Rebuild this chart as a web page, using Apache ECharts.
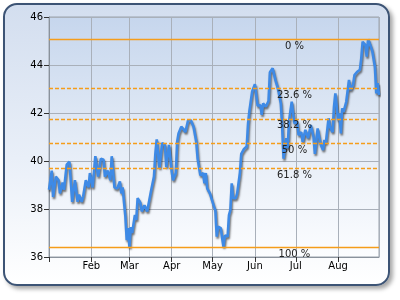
<!DOCTYPE html>
<html>
<head>
<meta charset="utf-8">
<script src="https://cdn.jsdelivr.net/npm/echarts@6/dist/echarts.min.js"></script>
<style>
html,body{margin:0;padding:0;background:#ffffff;}
#frame{position:absolute;left:3px;top:3px;width:383px;height:279px;border:2px solid #3d5475;border-radius:14px;
background:linear-gradient(to bottom,#d3deef 0%,#e9eff8 55%,#ffffff 100%);box-shadow:3px 3px 4px rgba(0,0,0,0.35);}
#c{position:absolute;left:0;top:0;width:400px;height:300px;}
</style>
</head>
<body>
<div id="frame"></div>
<div id="c"></div>
<script>
// ---- data ----
const YEAR = 2009;
const monthLabels = ['', 'Feb', 'Mar', 'Apr', 'May', 'Jun', 'Jul', 'Aug', 'Sep', 'Oct', 'Nov', 'Dec'];
// day offsets from Jan 1
const dayOffsets = [
  0, 2, 3, 5, 7, 8, 10, 11, 13, 15,
  17, 19, 21, 22, 24, 25, 27, 29, 30, 32,
  34, 36, 38, 40, 41, 43, 45, 46, 48, 50,
  52, 53, 54, 56, 57, 58, 59, 60, 61, 63,
  64, 65, 67, 68, 70, 72, 73, 75, 77, 78,
  79, 81, 83, 85, 86, 88, 90, 91, 93, 94,
  95, 97, 99, 100, 102, 104, 106, 108, 109, 111,
  113, 114, 115, 116, 118, 119, 121, 122, 123, 124,
  126, 127, 128, 129, 131, 132, 133, 134, 135, 137,
  138, 140, 141, 143, 145, 146, 147, 149, 151, 153,
  155, 156, 157, 159, 161, 162, 164, 166, 168, 170,
  171, 172, 174, 175, 176, 178, 179, 180, 182, 183,
  185, 186, 188, 190, 192, 194, 195, 196, 197, 199,
  201, 202, 203, 205, 206, 208, 209, 210, 212, 213,
  214, 215, 216, 218, 220, 221, 223, 224, 226, 228,
  229, 230, 232, 233, 234, 236, 237, 239, 240, 241,
  242
];
const prices = [
  38.8, 39.6, 38.5, 39.35, 39.2, 38.65, 39.1, 38.8, 39.85, 39.97,
  38.3, 39.2, 38.3, 38.6, 38.3, 38.5, 39.2, 38.9, 39.5, 38.9,
  40.2, 39.35, 40.1, 40.05, 39.35, 39.6, 39.2, 40.2, 38.9, 38.85,
  39.15, 38.65, 38.9, 37.7, 36.7, 37.2, 36.4, 37.25, 37.0, 37.75,
  37.55, 38.45, 38.25, 37.9, 38.15, 37.9, 37.95, 38.8, 39.35, 40.3,
  40.9, 39.7, 40.75, 40.67, 39.75, 40.67, 39.55, 39.2, 39.5, 40.8,
  41.15, 41.43, 41.3, 41.2, 41.7, 41.7, 41.43, 40.8, 40.1, 39.4,
  39.5, 39.07, 39.5, 38.86, 38.65, 38.58, 38.1, 37.95, 36.85, 37.26,
  37.2, 36.78, 36.43, 36.9, 36.85, 37.75, 37.95, 39.07, 38.45, 38.45,
  38.65, 39.5, 40.3, 40.5, 40.6, 41.57, 42.1, 42.9, 43.2, 42.3,
  42.33, 41.92, 42.4, 42.26, 42.5, 43.7, 43.86, 43.38, 43.0, 42.4,
  41.4, 40.1, 40.95, 40.53, 41.64, 42.47, 41.99, 41.57, 41.64, 41.08,
  41.2, 40.8, 41.3, 40.95, 41.5, 41.0, 40.3, 40.25, 41.36, 40.73,
  40.46, 40.88, 40.73, 41.78, 41.43, 41.2, 42.26, 42.82, 41.7, 41.99,
  41.15, 42.2, 42.05, 42.47, 43.38, 42.96, 43.17, 43.58, 43.72, 43.8,
  44.28, 44.97, 44.83, 44.35, 45.07, 44.76, 44.6, 43.93, 42.82, 43.24,
  42.75
];
const fibRatios = [0, 23.6, 38.2, 50, 61.8, 100];
const fibLabels = ['0 %', '23.6 %', '38.2 %', '50 %', '61.8 %', '100 %'];
const fibHigh = 45.07;
const fibLow = 36.4;
const fibLabelDay = 180;
const axisStartDay = 0;
const axisEndDay = 242;
const yMin = 36, yMax = 46, yStep = 2;

// ---- build ----
const DAY = 86400000;
function toTime(d) { return new Date(YEAR, 0, 1 + d).getTime(); }
const seriesData = dayOffsets.map((d, i) => [toTime(d), prices[i]]);
const levels = fibRatios.map(r => fibHigh - (fibHigh - fibLow) * r / 100);

const FONT = 'DejaVu Sans';
const chart = echarts.init(document.getElementById('c'), null, { renderer: 'canvas' });
chart.setOption({
  animation: false,
  backgroundColor: 'transparent',
  grid: {
    left: 49, right: 21, top: 17, bottom: 43,
    show: true,
    borderColor: '#9aa2ad', borderWidth: 1,
    backgroundColor: new echarts.graphic.LinearGradient(0, 0, 0, 1, [
      { offset: 0, color: '#c6d6ed' },
      { offset: 0.5, color: '#e3ebf6' },
      { offset: 1, color: '#fcfdff' }
    ])
  },
  xAxis: {
    type: 'time',
    min: toTime(axisStartDay),
    max: toTime(axisEndDay),
    minInterval: 30 * DAY,
    maxInterval: 30 * DAY,
    axisLine: { show: true, lineStyle: { color: '#8a929c', width: 1 } },
    axisTick: { show: true, length: 5, lineStyle: { color: '#333333' } },
    axisLabel: {
      color: '#000', fontSize: 10, fontFamily: FONT, margin: 4, hideOverlap: false,
      formatter: function (v) {
        const d = new Date(v);
        return d.getDate() === 1 ? monthLabels[d.getMonth()] : '';
      }
    },
    splitLine: { show: true, lineStyle: { color: '#a9b0ba', width: 1 } }
  },
  yAxis: {
    type: 'value',
    min: yMin, max: yMax, interval: yStep,
    axisLine: { show: true, lineStyle: { color: '#8a929c', width: 1 } },
    axisTick: { show: true, length: 5, lineStyle: { color: '#333333' } },
    axisLabel: { color: '#000', fontSize: 10, fontFamily: FONT, margin: 6 },
    splitLine: { show: true, lineStyle: { color: '#a9b0ba', width: 1 } }
  },
  series: [{
    type: 'line',
    data: seriesData,
    symbol: 'none',
    showSymbol: false,
    lineStyle: {
      color: '#3e8ae6', width: 2.6,
      shadowColor: 'rgba(0,0,0,0.55)', shadowBlur: 2, shadowOffsetX: 1, shadowOffsetY: 2
    },
    z: 3,
    markLine: {
      silent: true,
      symbol: 'none',
      label: { show: false },
      emphasis: { disabled: true },
      blur: { lineStyle: { opacity: 1 } },
      data: levels.map((lv, i) => ({
        yAxis: lv,
        lineStyle: {
          color: '#f59d1a', width: 1.3, opacity: 1,
          type: (i === 0 || i === levels.length - 1) ? 'solid' : [4, 2]
        }
      }))
    },
    markPoint: {
      silent: true,
      symbol: 'rect',
      symbolSize: 1,
      itemStyle: { color: 'rgba(0,0,0,0)' },
      label: {
        show: true, position: 'inside', offset: [0, 7],
        color: '#222', fontSize: 10, fontFamily: FONT,
        formatter: p => p.name
      },
      data: levels.map((lv, i) => ({ name: fibLabels[i], coord: [toTime(fibLabelDay), lv] }))
    }
  }]
});
</script>
</body>
</html>
